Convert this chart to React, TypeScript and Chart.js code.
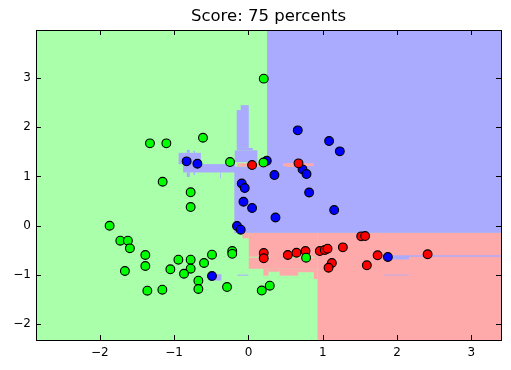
import React, { useEffect, useRef } from "react";
import { Chart, registerables } from "chart.js";

Chart.register(...registerables);

const TITLE = "Score: 75 percents";
const X_RANGE = [-2.86, 3.4];
const Y_RANGE = [-2.33, 3.98];
const X_TICKS = [-2, -1, 0, 1, 2, 3];
const Y_TICKS = [-2, -1, 0, 1, 2, 3];

const REGION_COLORS = ["#aaffaa", "#aaaaff", "#ffaaaa"];
const POINT_COLORS = ["#00ff00", "#0000ff", "#ff0000"];

// class 0 (green) samples
const GREEN_X = [0.206, -1.326, -1.105, -0.612, -0.248, 0.202, -1.155, -0.778, -0.778, -1.869, -1.725, -1.623, -1.596, -1.388, -1.388, -1.663, -1.361, -1.159, -1.051, -0.943, -0.778, -0.778, -0.868, -0.674, -0.674, -0.598, -0.491, -0.218, -0.218, -0.288, 0.179, 0.287, 0.776];
const GREEN_Y = [2.99, 1.673, 1.673, 1.787, 1.292, 1.282, 0.891, 0.676, 0.376, -0.004, -0.309, -0.309, -0.464, -0.6, -0.824, -0.926, -1.327, -1.306, -0.891, -0.696, -0.696, -0.879, -0.981, -1.123, -1.292, -0.763, -0.594, -0.519, -0.576, -1.252, -1.323, -1.225, -0.655];

// class 1 (blue) samples
const BLUE_X = [0.664, 1.086, 1.23, 0.247, 0.35, 0.728, 0.782, -0.832, -0.687, -0.09, -0.05, -0.067, 0.049, 0.364, 0.817, 1.154, -0.154, -0.104, -0.491, 1.877];
const BLUE_Y = [1.937, 1.72, 1.51, 1.319, 1.028, 1.144, 1.048, 1.306, 1.258, 0.855, 0.763, 0.484, 0.356, 0.163, 0.672, 0.315, -0.01, -0.085, -1.028, -0.641];

// class 2 (red) samples
const RED_X = [0.049, 0.674, 0.206, 0.206, 0.53, 0.647, 0.768, 0.961, 1.028, 1.065, 1.271, 1.518, 1.571, 1.123, 1.078, 1.594, 1.739, 2.412];
const RED_Y = [1.231, 1.266, -0.56, -0.667, -0.6, -0.554, -0.519, -0.519, -0.499, -0.472, -0.444, -0.22, -0.214, -0.763, -0.859, -0.81, -0.606, -0.586];

// decision regions: [class, x0, x1, y0, y1] in data units
const REGIONS: number[][] = [
  [0, X_RANGE[0], X_RANGE[1], Y_RANGE[0], Y_RANGE[1]],
  [1, 0.25, X_RANGE[1], -0.15, Y_RANGE[1]],
  [2, 0.93, X_RANGE[1], Y_RANGE[0], -0.15],
  [1, -0.19, 0.25, -0.15, 1.2],
  [0, -0.17, 0.25, 1.266, 1.29],
  [2, -0.15, 0.25, 1.2, 1.266],
  [1, -0.185, 0.12, 1.29, 1.53],
  [1, -0.156, 0.058, 1.53, 1.58],
  [1, -0.158, 0.004, 1.58, 2.35],
  [1, -0.104, 0.004, 2.35, 2.45],
  [1, -0.88, -0.18, 1.08, 1.25],
  [1, -0.83, -0.79, 0.99, 1.08],
  [1, -0.74, -0.72, 1.03, 1.08],
  [1, -0.38, -0.37, 0.96, 1.08],
  [1, -0.94, -0.64, 1.25, 1.48],
  [1, -0.83, -0.79, 1.48, 1.54],
  [1, -0.74, -0.72, 1.48, 1.52],
  [2, -0.08, 0.004, -0.26, -0.15],
  [2, 0.004, 0.93, -0.88, -0.15],
  [2, 0.2, 0.27, -1.02, -0.88],
  [2, 0.27, 0.42, -0.94, -0.88],
  [2, 0.42, 0.67, -1.02, -0.88],
  [2, 0.67, 0.88, -0.95, -0.88],
  [2, 0.88, 0.93, -1.09, -0.88],
  [0, 0.004, 0.29, -0.655, -0.635],
  [0, 0.58, 0.89, -0.655, -0.635],
  [1, -0.535, -0.364, -1.12, -0.99],
  [1, -0.148, 0.0, -1.02, -1.0],
  [1, 1.81, X_RANGE[1], -0.635, -0.606],
  [1, 1.9, 2.16, -0.69, -0.62],
  [1, 1.82, 2.16, -1.015, -1.0],
  [2, 0.466, 0.88, 1.211, 1.266],
  [2, 0.51, 0.624, 1.19, 1.266],
];

const toPoints = (xs: number[], ys: number[]) => xs.map((x, i) => ({ x, y: ys[i] }));
const fmt = (v: number) => (v < 0 ? "\u2212" + Math.abs(v) : String(v));

const regionPlugin = {
  id: "regions",
  beforeDatasetsDraw(chart: any) {
    const { ctx, chartArea, scales } = chart;
    const xs = scales.x;
    const ys = scales.y;
    ctx.save();
    ctx.beginPath();
    ctx.rect(chartArea.left, chartArea.top, chartArea.right - chartArea.left, chartArea.bottom - chartArea.top);
    ctx.clip();
    for (const r of REGIONS) {
      const [c, x0, x1, y0, y1] = r;
      const px0 = xs.getPixelForValue(x0);
      const px1 = xs.getPixelForValue(x1);
      const py0 = ys.getPixelForValue(y0);
      const py1 = ys.getPixelForValue(y1);
      ctx.fillStyle = REGION_COLORS[c];
      ctx.fillRect(Math.min(px0, px1), Math.min(py0, py1), Math.abs(px1 - px0), Math.abs(py1 - py0));
    }
    ctx.restore();
  },
  afterDraw(chart: any) {
    const { ctx, chartArea, scales } = chart;
    const { left, right, top, bottom } = chartArea;
    ctx.save();
    ctx.strokeStyle = "#000";
    ctx.lineWidth = 1;
    const tl = 5;
    ctx.beginPath();
    for (const v of X_TICKS) {
      const px = Math.round(scales.x.getPixelForValue(v)) + 0.5;
      ctx.moveTo(px, bottom);
      ctx.lineTo(px, bottom - tl);
      ctx.moveTo(px, top);
      ctx.lineTo(px, top + tl);
    }
    for (const v of Y_TICKS) {
      const py = Math.round(scales.y.getPixelForValue(v)) + 0.5;
      ctx.moveTo(left, py);
      ctx.lineTo(left + tl, py);
      ctx.moveTo(right, py);
      ctx.lineTo(right - tl, py);
    }
    ctx.stroke();
    ctx.strokeRect(Math.round(left) + 0.5, Math.round(top) + 0.5, Math.round(right - left), Math.round(bottom - top));
    ctx.fillStyle = "#000";
    ctx.font = "16.5px 'DejaVu Sans'";
    ctx.textAlign = "center";
    ctx.textBaseline = "middle";
    ctx.fillText(TITLE, (left + right) / 2, 17);
    ctx.restore();
  },
};

export default function App() {
  const ref = useRef<HTMLCanvasElement | null>(null);
  useEffect(() => {
    if (!ref.current) return;
    Chart.defaults.font.family = "'DejaVu Sans'";
    Chart.defaults.font.size = 12;
    Chart.defaults.color = "#000";
    const mk = (xs: number[], ys: number[], c: number) => ({
      data: toPoints(xs, ys),
      pointBackgroundColor: POINT_COLORS[c],
      pointBorderColor: "#000",
      pointBorderWidth: 1.1,
      pointRadius: 4.4,
      pointHoverRadius: 4.4,
      showLine: false,
    });
    const chart = new Chart(ref.current, {
      type: "scatter",
      data: {
        datasets: [mk(GREEN_X, GREEN_Y, 0), mk(RED_X, RED_Y, 2), mk(BLUE_X, BLUE_Y, 1)],
      },
      options: {
        animation: false,
        responsive: false,
        devicePixelRatio: 1,
        layout: { padding: { top: 30, right: 10, left: 0, bottom: 0 } },
        plugins: { legend: { display: false }, title: { display: false }, tooltip: { enabled: false } },
        scales: {
          x: {
            type: "linear",
            min: X_RANGE[0],
            max: X_RANGE[1],
            grid: { display: false, drawTicks: false },
            border: { display: false },
            ticks: { padding: 6, callback: (v: any) => fmt(Number(v)), font: { size: 12 } },
            afterBuildTicks: (axis: any) => {
              axis.ticks = X_TICKS.map((value) => ({ value }));
            },
            afterFit: (axis: any) => {
              axis.height = 30;
            },
          },
          y: {
            type: "linear",
            min: Y_RANGE[0],
            max: Y_RANGE[1],
            grid: { display: false, drawTicks: false },
            border: { display: false },
            ticks: { padding: 5, callback: (v: any) => fmt(Number(v)), font: { size: 12 } },
            afterBuildTicks: (axis: any) => {
              axis.ticks = Y_TICKS.map((value) => ({ value }));
            },
            afterFit: (axis: any) => {
              axis.width = 36;
            },
          },
        },
      },
      plugins: [regionPlugin],
    } as any);
    return () => chart.destroy();
  }, []);
  return (
    <div style={{ position: "fixed", left: 0, top: 0, width: 511, height: 370, background: "#fff" }}>
      <canvas ref={ref} width={511} height={370} style={{ display: "block" }} />
    </div>
  );
}
